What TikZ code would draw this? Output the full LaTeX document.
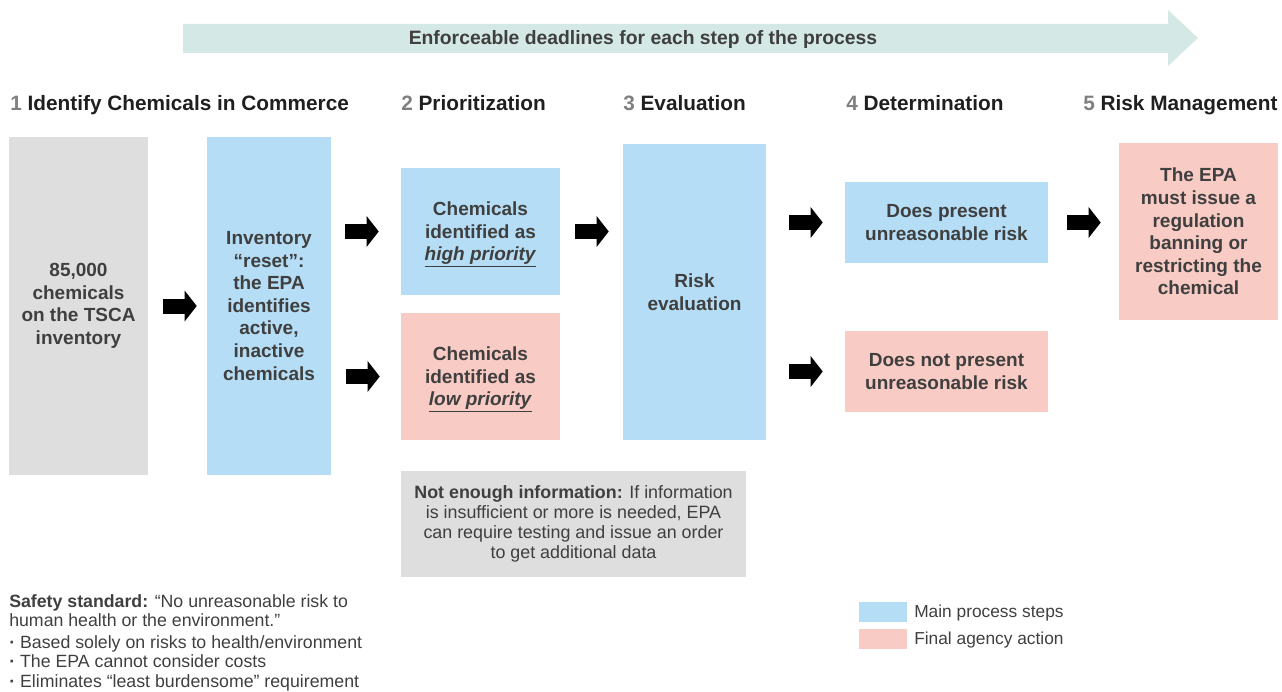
\documentclass[tikz,border=0pt]{standalone}
\usepackage{fontspec}
\setmainfont{Liberation Sans}
\usetikzlibrary{arrows.meta}

\definecolor{mainblue}{HTML}{B5DDF6}
\definecolor{finalpink}{HTML}{F8CBC4}
\definecolor{boxgray}{HTML}{DEDEDE}
\definecolor{bannerteal}{HTML}{D4E9E5}
\definecolor{textgray}{HTML}{3F3F3F}
\definecolor{numgray}{HTML}{808080}

\begin{document}
\begin{tikzpicture}[x=0.75pt, y=-0.75pt,
            every node/.style={inner sep=0pt, text=textgray},
            box/.style={align=center, font=\bfseries\fontsize{14.25pt}{16.9pt}\selectfont},
            mainbox/.style={box, fill=mainblue},
            finalbox/.style={box, fill=finalpink},
            graybox/.style={box, fill=boxgray},
            heading/.style={anchor=base west, text=black!88,
                font=\bfseries\fontsize{15.6pt}{18pt}\selectfont},
            legendtext/.style={anchor=west, font=\fontsize{13pt}{15pt}\selectfont},
            blockarrow/.style={line width=11.25pt, -{Triangle[length=9pt, width=22.5pt]}}]
    \useasboundingbox (0,0) rectangle (1282,692);

    % deadline banner
    \fill[bannerteal] (183,24) -- (1168,24) -- (1168,10) -- (1198,38)
        -- (1168,66) -- (1168,53) -- (183,53) -- cycle;
    \node[font=\bfseries\fontsize{14.5pt}{17pt}\selectfont] (banner) at (643,40)
        {Enforceable deadlines for each step of the process};

    % step headings
    \node[heading] (h1) at (10,111) {\textcolor{numgray}{1} Identify Chemicals in Commerce};
    \node[heading] (h2) at (401,111) {\textcolor{numgray}{2} Prioritization};
    \node[heading] (h3) at (623,111) {\textcolor{numgray}{3} Evaluation};
    \node[heading] (h4) at (846,111) {\textcolor{numgray}{4} Determination};
    \node[heading] (h5) at (1083,111) {\textcolor{numgray}{5} Risk Management};

    % boxes
    \node[graybox, minimum width=104.25pt, minimum height=253.5pt] (tsca) at (78.5,306)
        {85,000\\chemicals\\on the TSCA\\inventory};
    \node[mainbox, minimum width=93pt, minimum height=253.5pt] (reset) at (269,306)
        {Inventory\\“reset”:\\the EPA\\identifies\\active,\\inactive\\chemicals};
    \node[mainbox, minimum width=119.25pt, minimum height=95.25pt] (high) at (480.5,231.5)
        {Chemicals\\identified as\\\smash{\underline{\textit{high priority}}}};
    \node[finalbox, minimum width=119.25pt, minimum height=95.25pt] (low) at (480.5,376.5)
        {Chemicals\\identified as\\\smash{\underline{\textit{low priority}}}};
    \node[mainbox, minimum width=107.25pt, minimum height=222pt] (risk) at (694.5,292)
        {Risk\\evaluation};
    \node[mainbox, minimum width=152.25pt, minimum height=60.75pt] (present) at (946.5,222.5)
        {Does present\\unreasonable risk};
    \node[finalbox, minimum width=152.25pt, minimum height=60.75pt] (notpresent) at (946.5,371.5)
        {Does not present\\unreasonable risk};
    \node[finalbox, minimum width=119.25pt, minimum height=132.75pt] (ban) at (1198.5,231.5)
        {The EPA\\must issue a\\regulation\\banning or\\restricting the\\chemical};
    \node[fill=boxgray, align=center, minimum width=258.75pt, minimum height=79.5pt,
        font=\fontsize{13.4pt}{15pt}\selectfont] (info) at (573.5,524)
        {\textbf{Not enough information:} If information\\is insufficient or more is needed, EPA\\can require testing and issue an order\\to get additional data};

    % arrows
    \draw[blockarrow, shorten <=11.25pt, shorten >=7.5pt] (tsca.east) -- (reset.west);
    \draw[blockarrow, shorten <=10.5pt, shorten >=16.5pt] (reset.east |- high.west) -- (high.west);
    \draw[blockarrow, shorten <=11.25pt, shorten >=15.75pt] (reset.east |- low.west) -- (low.west);
    \draw[blockarrow, shorten <=11.25pt, shorten >=10.5pt] (high.east) -- (high.east -| risk.west);
    \draw[blockarrow, shorten <=17.25pt, shorten >=16.5pt] (risk.east |- present.west) -- (present.west);
    \draw[blockarrow, shorten <=17.25pt, shorten >=16.5pt] (risk.east |- notpresent.west) -- (notpresent.west);
    \draw[blockarrow, shorten <=14.25pt, shorten >=13.5pt] (present.east) -- (present.east -| ban.west);

    % safety standard
    \node[anchor=north west, align=left, font=\fontsize{13.3pt}{14.7pt}\selectfont] (safety) at (9,594)
        {\textbf{Safety standard:} “No unreasonable risk to\\human health or the environment.”\\[1.5pt]
         \textbf{·} Based solely on risks to health/environment\\
         \textbf{·} The EPA cannot consider costs\\
         \textbf{·} Eliminates “least burdensome” requirement};

    % legend
    \node[fill=mainblue, minimum width=36pt, minimum height=15pt] (keymain) at (883,612) {};
    \node[fill=finalpink, minimum width=36pt, minimum height=15pt] (keyfinal) at (883,639) {};
    \node[legendtext] (keymaintext) at (914,613) {Main process steps};
    \node[legendtext] (keyfinaltext) at (914,640) {Final agency action};
\end{tikzpicture}
\end{document}
